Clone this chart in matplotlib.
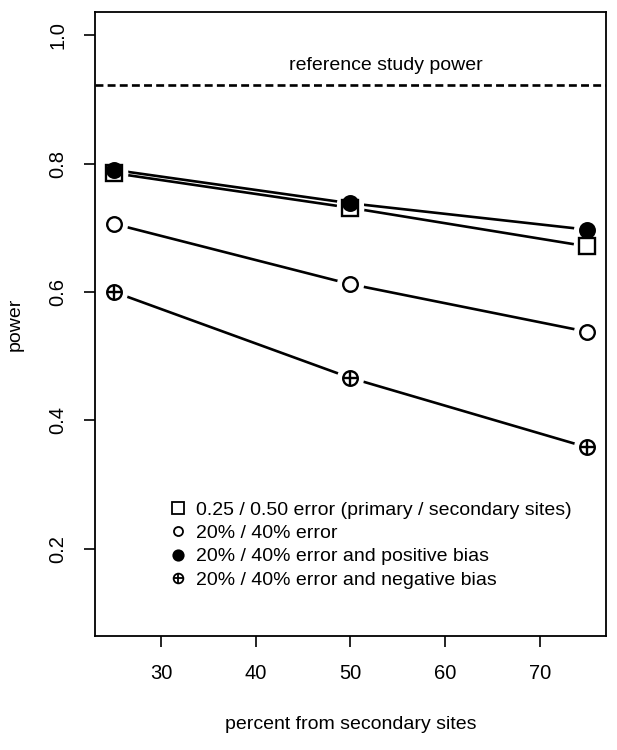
import numpy as np
import matplotlib
matplotlib.use("Agg")
import matplotlib.pyplot as plt
from matplotlib.lines import Line2D

plt.rcParams['font.family'] = ['Liberation Sans', 'DejaVu Sans']

# percent of samples from secondary sites
pct = [25, 50, 75]

# power for each scenario
power_abs_err = [0.785, 0.731, 0.671]   # 0.25 / 0.50 error
power_pct_err = [0.706, 0.612, 0.538]   # 20% / 40% error
power_pos_bias = [0.790, 0.738, 0.697]  # 20% / 40% error and positive bias
power_neg_bias = [0.600, 0.466, 0.358]  # 20% / 40% error and negative bias

reference_power = 0.923

labels = [
    "0.25 / 0.50 error (primary / secondary sites)",
    "20% / 40% error",
    "20% / 40% error and positive bias",
    "20% / 40% error and negative bias",
]

fig = plt.figure(figsize=(6.17, 7.5), dpi=100)
ax = fig.add_axes([0.154, 0.152, 0.828, 0.832])

lw = 1.9


def draw_series(y, marker, ms, mfc, plus=False):
    # line with small gaps around points (like R type="b")
    ax.plot(pct, y, color='black', lw=lw, zorder=2)
    ax.plot(pct, y, linestyle='none', marker='o', ms=ms + 8, mfc='white',
            mec='white', zorder=3)
    ax.plot(pct, y, linestyle='none', marker=marker, ms=ms, mfc=mfc,
            mec='black', mew=1.7, zorder=4)
    if plus:
        ax.plot(pct, y, linestyle='none', marker='+', ms=ms, mec='black',
                mew=1.7, zorder=5)


draw_series(power_abs_err, 's', 11, 'white')
draw_series(power_pct_err, 'o', 10.5, 'white')
draw_series(power_pos_bias, 'o', 10.5, 'black')
draw_series(power_neg_bias, 'o', 10.5, 'white', plus=True)

# reference line
ax.axhline(reference_power, color='black', lw=1.9, dashes=(3, 1.6), zorder=1)
ax.text(53.7, 0.952, "reference study power", ha='center', va='center',
        fontsize=14)

ax.set_xlim(23, 77)
ax.set_ylim(0.064, 1.036)
ax.set_xticks([30, 40, 50, 60, 70])
ax.set_yticks([0.2, 0.4, 0.6, 0.8, 1.0])
ax.set_yticklabels(["0.2", "0.4", "0.6", "0.8", "1.0"], rotation=90,
                   va='center')
ax.tick_params(direction='out', length=8, width=1.2, labelsize=14.5, pad=12)
for s in ax.spines.values():
    s.set_linewidth(1.3)

ax.set_xlabel("percent from secondary sites", fontsize=14, labelpad=24)
ax.set_ylabel("power", fontsize=14, va='center')
ax.yaxis.set_label_coords(-0.157, 0.5)

# legend
handles = [
    Line2D([], [], linestyle='none', marker='s', ms=8.5, mfc='white',
           mec='black', mew=1.3),
    Line2D([], [], linestyle='none', marker='o', ms=6.5, mfc='white',
           mec='black', mew=1.3),
    Line2D([], [], linestyle='none', marker='o', ms=7.5, mfc='black',
           mec='black', mew=1.3),
    (Line2D([], [], linestyle='none', marker='o', ms=7, mfc='white',
            mec='black', mew=1.3),
     Line2D([], [], linestyle='none', marker='+', ms=7, mec='black',
            mew=1.3)),
]
ax.legend(handles, labels, loc='center left', bbox_to_anchor=(0.147, 0.146),
          frameon=False, fontsize=14, handlelength=0.8, handletextpad=0.55,
          labelspacing=0.3, borderaxespad=0, borderpad=0)

fig.savefig("out.png", dpi=100)
